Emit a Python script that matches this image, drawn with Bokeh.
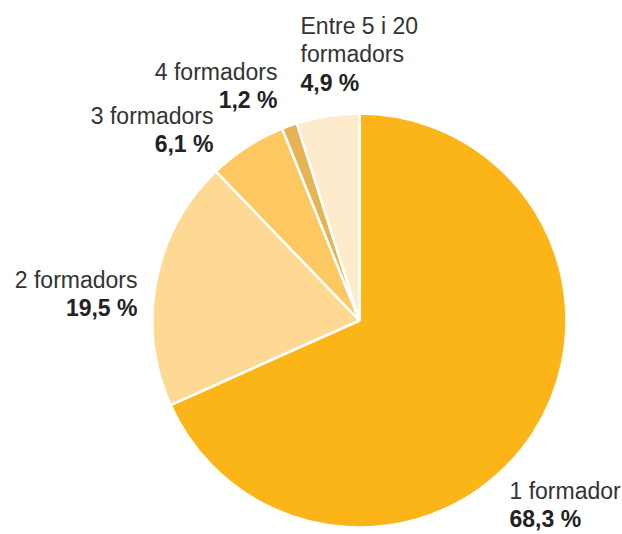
import math
from bokeh.plotting import figure
from bokeh.models import Range1d, ColumnDataSource
from bokeh.core.properties import value
from bokeh.embed import file_html
from bokeh.resources import INLINE

categories = ["1 formador", "2 formadors", "3 formadors", "4 formadors", "Entre 5 i 20\nformadors"]
shares = [68.3, 19.5, 6.1, 1.2, 4.9]
colors = ["#FBB519", "#FDD994", "#FDC862", "#E6B454", "#FDEBCC"]

W, H = 622, 534
p = figure(width=W, height=H, x_range=Range1d(0, W), y_range=Range1d(0, H),
           output_backend="svg", toolbar_location=None, min_border=0)
p.axis.visible = False
p.grid.visible = False
p.outline_line_color = None
p.background_fill_color = "white"

def py(yimg):
    return H - yimg

cx, cy, r = 359, py(320), 207
total = sum(shares)
starts, ends = [], []
cum = 0.0
for s in shares:
    starts.append(math.pi / 2 - 2 * math.pi * cum / total)
    cum += s
    ends.append(math.pi / 2 - 2 * math.pi * cum / total)

src = ColumnDataSource(dict(start=starts, end=ends, color=colors, cat=categories, share=shares))
p.wedge(x=cx, y=cy, radius=r, start_angle="start", end_angle="end", direction="clock",
        fill_color="color", line_color="white", line_width=2.5, source=src)

# label layout: (x of anchor in px, baseline of first line in px, align)
layout = [
    (509, 498, "left"),
    (137, 287, "right"),
    (213, 123, "right"),
    (277, 79, "right"),
    (300, 33, "left"),
]
font = value("Liberation Sans")
line_h = 28.5
shift = 8
for cat, s, (lx, ly, al) in zip(categories, shares, layout):
    lines = cat.split("\n")
    for i, ln in enumerate(lines):
        p.text(x=[lx], y=[py(ly - shift + i * line_h)], text=[ln], text_font=font,
               text_font_size="23px", text_color="#333333", text_align=al,
               text_baseline="alphabetic")
    lbl = ("%.1f" % s).replace(".", ",") + " %"
    p.text(x=[lx], y=[py(ly - shift + len(lines) * line_h)], text=[lbl], text_font=font,
           text_font_size="23px", text_font_style="bold", text_color="#222222",
           text_align=al, text_baseline="alphabetic")

open("out.html", "w").write(file_html(p, INLINE))
